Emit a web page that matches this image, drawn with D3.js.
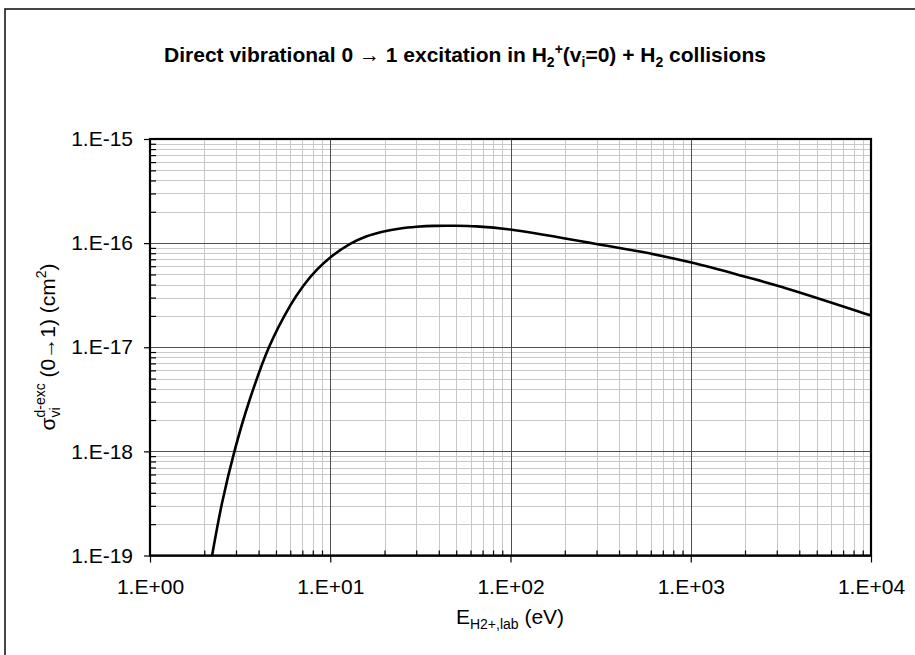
<!DOCTYPE html>
<html>
<head>
<meta charset="utf-8">
<script src="https://cdn.jsdelivr.net/npm/d3@7"></script>
<style>
  html, body { margin: 0; padding: 0; background: #fff; }
  svg { display: block; font-family: "Liberation Sans", Arial, sans-serif; }
</style>
</head>
<body>
<svg id="chart" width="915" height="655"></svg>
<script>
// ---- data ----
const energies = [2.21, 2.51, 2.94, 3.55, 4.57, 6.03, 7.08, 8.41, 10.0, 12.9, 15.8, 19.5, 24.5, 30.2, 38.0, 49.0, 64.6, 100, 304, 542, 1009, 2056, 3206, 9727, 10000];
const sigmas   = [1.0e-19, 3.19e-19, 1.0e-18, 3.03e-18, 1.0e-17, 2.55e-17, 3.88e-17, 5.53e-17, 7.29e-17, 9.82e-17, 1.156e-16, 1.285e-16, 1.384e-16, 1.436e-16, 1.466e-16, 1.469e-16, 1.449e-16, 1.35e-16, 9.77e-17, 8.2e-17, 6.5e-17, 4.7e-17, 3.79e-17, 2.05e-17, 2.02e-17];
const xTickValues = [1, 10, 100, 1000, 10000];
const xTickLabels = ["1.E+00", "1.E+01", "1.E+02", "1.E+03", "1.E+04"];
const yTickValues = [1e-19, 1e-18, 1e-17, 1e-16, 1e-15];
const yTickLabels = ["1.E-19", "1.E-18", "1.E-17", "1.E-16", "1.E-15"];

const svg = d3.select("#chart");
const plot = { left: 150, right: 871, top: 139, bottom: 555.5 };

const x = d3.scaleLog().domain([1, 1e4]).range([plot.left, plot.right]);
const y = d3.scaleLog().domain([1e-19, 1e-15]).range([plot.bottom, plot.top]);

// minor values
function minors(lo, hi) {
  const out = [];
  for (let d = lo; d < hi; d++) for (let k = 2; k <= 9; k++) out.push(k * Math.pow(10, d));
  return out;
}
const xMinor = minors(0, 4);
const yMinor = minors(-19, -15);

// outer chart frame (cropped at right/bottom)
svg.append("rect").attr("x", 5).attr("y", 9).attr("width", 940).attr("height", 680)
  .attr("fill", "none").attr("stroke", "#1a1a1a").attr("stroke-width", 1.6);

// grid
const grid = svg.append("g").attr("shape-rendering", "crispEdges");
grid.selectAll(".gxm").data(xMinor).join("line")
  .attr("x1", d => Math.round(x(d)) + 0.5).attr("x2", d => Math.round(x(d)) + 0.5)
  .attr("y1", plot.top).attr("y2", plot.bottom).attr("stroke", "#c8c8c8");
grid.selectAll(".gym").data(yMinor).join("line")
  .attr("y1", d => Math.round(y(d)) + 0.5).attr("y2", d => Math.round(y(d)) + 0.5)
  .attr("x1", plot.left).attr("x2", plot.right).attr("stroke", "#c8c8c8");
grid.selectAll(".gxM").data(xTickValues).join("line")
  .attr("x1", d => Math.round(x(d)) + 0.5).attr("x2", d => Math.round(x(d)) + 0.5)
  .attr("y1", plot.top).attr("y2", plot.bottom).attr("stroke", "#505050");
grid.selectAll(".gyM").data(yTickValues).join("line")
  .attr("y1", d => Math.round(y(d)) + 0.5).attr("y2", d => Math.round(y(d)) + 0.5)
  .attr("x1", plot.left).attr("x2", plot.right).attr("stroke", "#505050");

// curve
svg.append("clipPath").attr("id", "clip").append("rect")
  .attr("x", plot.left).attr("y", plot.top)
  .attr("width", plot.right - plot.left).attr("height", plot.bottom - plot.top);
const pts = energies.map((e, i) => [e, sigmas[i]]);
const line = d3.line().x(d => x(d[0])).y(d => y(d[1])).curve(d3.curveCatmullRom.alpha(0.5));
svg.append("path").datum(pts).attr("d", line).attr("clip-path", "url(#clip)")
  .attr("fill", "none").attr("stroke", "#000").attr("stroke-width", 2.6)
  .attr("stroke-linejoin", "round");

// plot border
svg.append("rect").attr("x", plot.left).attr("y", plot.top)
  .attr("width", plot.right - plot.left).attr("height", plot.bottom - plot.top)
  .attr("fill", "none").attr("stroke", "#000").attr("stroke-width", 2.2);

// axes
const fontSize = 21;
const xAxis = d3.axisBottom(x).tickValues(xTickValues).tickSize(7).tickSizeOuter(0).tickPadding(17)
  .tickFormat((d, i) => xTickLabels[i]);
const xAxisMinor = d3.axisBottom(x).tickValues(xMinor).tickSize(-5).tickSizeOuter(0).tickFormat("");
const yAxis = d3.axisLeft(y).tickValues(yTickValues).tickSize(6).tickSizeOuter(0).tickPadding(11)
  .tickFormat((d, i) => yTickLabels[i]);
const yAxisMinor = d3.axisLeft(y).tickValues(yMinor).tickSize(-6).tickSizeOuter(0).tickFormat("");

function styleAxis(g) {
  g.select(".domain").remove();
  g.selectAll("line").attr("stroke", "#000").attr("stroke-width", 1.2);
  g.selectAll("text").attr("font-size", fontSize).attr("fill", "#000")
    .attr("font-family", "'Liberation Sans', Arial, sans-serif");
}
svg.append("g").attr("transform", `translate(0,${plot.bottom})`).call(xAxisMinor).call(styleAxis);
svg.append("g").attr("transform", `translate(0,${plot.bottom})`).call(xAxis).call(styleAxis);
svg.append("g").attr("transform", `translate(${plot.left},0)`).call(yAxisMinor).call(styleAxis);
svg.append("g").attr("transform", `translate(${plot.left},0)`).call(yAxis).call(styleAxis);

// title
const title = svg.append("text").attr("x", 465).attr("y", 62).attr("text-anchor", "middle")
  .attr("font-size", fontSize).attr("font-weight", "bold").attr("fill", "#000");
title.append("tspan").text("Direct vibrational 0 \u2192 1 excitation in H");
title.append("tspan").attr("font-size", 14).attr("dy", 5).text("2");
title.append("tspan").attr("font-size", 14).attr("dy", -13).text("+");
title.append("tspan").attr("dy", 8).text("(v");
title.append("tspan").attr("font-size", 14).attr("dy", 5).text("i");
title.append("tspan").attr("dy", -5).text("=0) + H");
title.append("tspan").attr("font-size", 14).attr("dy", 5).text("2");
title.append("tspan").attr("dy", -5).text(" collisions");

// x axis label
const xl = svg.append("text").attr("x", 510).attr("y", 624).attr("text-anchor", "middle")
  .attr("font-size", fontSize).attr("fill", "#000");
xl.append("tspan").text("E");
xl.append("tspan").attr("font-size", 14).attr("dy", 5).text("H2+,lab");
xl.append("tspan").attr("dy", -5).text(" (eV)");

// y axis label
const yl = svg.append("text").attr("transform", "translate(55,347) rotate(-90)")
  .attr("text-anchor", "middle").attr("font-size", fontSize).attr("fill", "#000");
yl.append("tspan").text("\u03c3");
yl.append("tspan").attr("font-size", 14).attr("dy", 5).text("vi");
yl.append("tspan").attr("font-size", 14).attr("dx", -10.1).attr("dy", -15).text("d-exc");
yl.append("tspan").attr("dy", 10).text("  (0\u21921) (cm");
yl.append("tspan").attr("font-size", 14).attr("dy", -9).text("2");
yl.append("tspan").attr("dy", 9).text(")");
</script>
</body>
</html>
